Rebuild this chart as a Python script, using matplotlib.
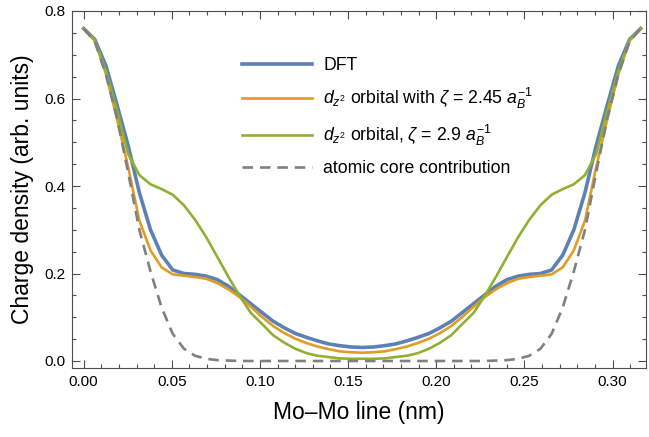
import numpy as np
import matplotlib
matplotlib.use("Agg")
import matplotlib.pyplot as plt

# Mo-Mo line charge density (symmetric about 0.158 nm)
x = np.linspace(0, 0.316, 51)

dft = [0.760, 0.735, 0.675, 0.585, 0.492, 0.385, 0.300, 0.242, 0.208, 0.200,
       0.198, 0.194, 0.186, 0.171, 0.151, 0.131, 0.111, 0.091, 0.076, 0.063,
       0.054, 0.046, 0.039, 0.035, 0.032, 0.031, 0.032, 0.035, 0.039, 0.046,
       0.054, 0.063, 0.076, 0.091, 0.111, 0.131, 0.151, 0.171, 0.186, 0.194,
       0.198, 0.200, 0.208, 0.242, 0.300, 0.385, 0.492, 0.585, 0.675, 0.735,
       0.760]

dz2_245 = [0.760, 0.733, 0.656, 0.553, 0.443, 0.321, 0.253, 0.214, 0.198, 0.195,
           0.192, 0.188, 0.178, 0.164, 0.146, 0.124, 0.101, 0.080, 0.064, 0.051,
           0.041, 0.033, 0.027, 0.022, 0.020, 0.019, 0.020, 0.022, 0.027, 0.033,
           0.041, 0.051, 0.064, 0.080, 0.101, 0.124, 0.146, 0.164, 0.178, 0.188,
           0.192, 0.195, 0.198, 0.214, 0.253, 0.321, 0.443, 0.553, 0.656, 0.733,
           0.760]

dz2_29 = [0.760, 0.733, 0.663, 0.572, 0.473, 0.425, 0.404, 0.393, 0.380, 0.356,
          0.323, 0.283, 0.238, 0.192, 0.149, 0.110, 0.085, 0.059, 0.042, 0.028,
          0.018, 0.012, 0.009, 0.006, 0.005, 0.005, 0.005, 0.006, 0.009, 0.012,
          0.018, 0.028, 0.042, 0.059, 0.085, 0.110, 0.149, 0.192, 0.238, 0.283,
          0.323, 0.356, 0.380, 0.393, 0.404, 0.425, 0.473, 0.572, 0.663, 0.733,
          0.760]

core = [0.760, 0.730, 0.655, 0.555, 0.430, 0.300, 0.205, 0.122, 0.062, 0.028,
        0.012, 0.005, 0.002, 0.001, 0.000, 0.000, 0.000, 0.000, 0.000, 0.000,
        0.000, 0.000, 0.000, 0.000, 0.000, 0.000, 0.000, 0.000, 0.000, 0.000,
        0.000, 0.000, 0.000, 0.000, 0.000, 0.000, 0.000, 0.001, 0.002, 0.005,
        0.012, 0.028, 0.062, 0.122, 0.205, 0.300, 0.430, 0.555, 0.655, 0.730,
        0.760]

labels = ["DFT",
          r"$d_{z^2}$ orbital with $\zeta$ = 2.45 $a_B^{-1}$",
          r"$d_{z^2}$ orbital, $\zeta$ = 2.9 $a_B^{-1}$",
          "atomic core contribution"]

plt.rcParams["font.family"] = ["Liberation Sans", "DejaVu Sans"]
plt.rcParams["mathtext.fontset"] = "custom"
plt.rcParams["mathtext.rm"] = "Liberation Sans"
plt.rcParams["mathtext.it"] = "Liberation Sans:italic"

fig = plt.figure(figsize=(6.49, 4.37), dpi=100)
ax = fig.add_axes([72 / 649, 1 - 368 / 437, 574 / 649, 357 / 437])

ax.plot(x, dft, color="#5E81B5", lw=2.6, label=labels[0], solid_joinstyle="round")
ax.plot(x, dz2_245, color="#E19C24", lw=1.9, label=labels[1])
ax.plot(x, dz2_29, color="#8FB032", lw=1.9, label=labels[2])
ax.plot(x, core, color="#808080", lw=1.9, ls=(0, (4.0, 2.6)), label=labels[3])

ax.set_xlim(-0.0066, 0.319)
ax.set_ylim(-0.016, 0.8)
ax.set_xticks([0.0, 0.05, 0.10, 0.15, 0.20, 0.25, 0.30])
ax.set_xticks(np.arange(0, 0.32, 0.01), minor=True)
ax.set_yticks([0.0, 0.2, 0.4, 0.6, 0.8])
ax.set_yticks(np.arange(0, 0.81, 0.05), minor=True)
ax.set_xticklabels(["0.00", "0.05", "0.10", "0.15", "0.20", "0.25", "0.30"])
ax.set_yticklabels(["0.0", "0.2", "0.4", "0.6", "0.8"])

for s in ax.spines.values():
    s.set_color("#4d4d4d")
    s.set_linewidth(0.8)
ax.tick_params(which="both", direction="in", top=True, right=True,
               colors="#4d4d4d", labelcolor="black", labelsize=11, width=0.8)
ax.tick_params(which="major", length=5.5, pad=5)
ax.tick_params(which="minor", length=3.2)

ax.set_xlabel("Mo\u2013Mo line (nm)", fontsize=16.5, labelpad=9)
ax.set_ylabel("Charge density (arb. units)", fontsize=16.5, labelpad=7)

ax.legend(loc="upper left", bbox_to_anchor=(0.296, 0.872), frameon=False,
          fontsize=12.7, handlelength=4.0, handletextpad=0.6, labelspacing=0.68,
          borderpad=0, borderaxespad=0)

fig.savefig("out.png", dpi=100)
